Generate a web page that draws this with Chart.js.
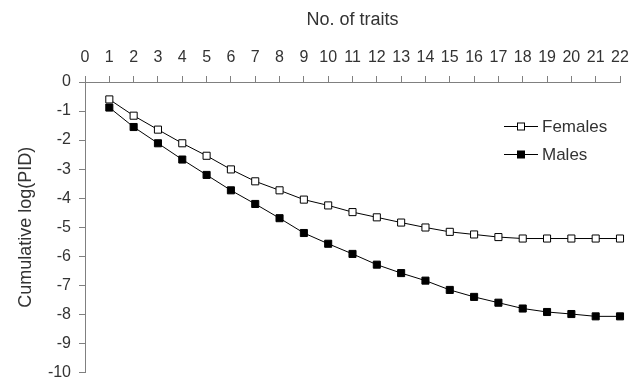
<!DOCTYPE html>
<html lang="en">
<head>
<meta charset="UTF-8">
<title>Cumulative log(PID)</title>
<script src="https://cdn.jsdelivr.net/npm/chart.js@4.4.1/dist/chart.umd.min.js"></script>
<style>
  html, body { margin: 0; padding: 0; background: #fff; }
  #wrap { width: 641px; height: 390px; }
</style>
</head>
<body>
<div id="wrap"><canvas id="chart" width="641" height="390"></canvas></div>
<script>
// number of traits (x) and cumulative log(PID) values
const traits = [1, 2, 3, 4, 5, 6, 7, 8, 9, 10, 11, 12, 13, 14, 15, 16, 17, 18, 19, 20, 21, 22];
const females = [-0.60, -1.16, -1.64, -2.11, -2.54, -3.01, -3.42, -3.73, -4.05, -4.25, -4.48,
                 -4.66, -4.84, -5.01, -5.16, -5.25, -5.34, -5.39, -5.39, -5.39, -5.39, -5.39];
const males = [-0.88, -1.55, -2.11, -2.67, -3.20, -3.73, -4.20, -4.69, -5.20, -5.57, -5.92,
               -6.29, -6.58, -6.84, -7.16, -7.40, -7.60, -7.80, -7.92, -7.99, -8.07, -8.07];
const seriesNames = ['Females', 'Males'];

const FONT = 'Arial, "Liberation Sans", sans-serif';
const TEXT = '#333';
const AXIS = '#808080';

const toPoints = (vals) => vals.map((v, i) => ({ x: traits[i], y: v }));

// legend drawn inside the plot, line + marker like the original
const insideLegend = {
  id: 'insideLegend',
  afterDatasetsDraw(chart) {
    const ctx = chart.ctx;
    const x0 = 504, x1 = 538, rows = [126, 154];
    ctx.save();
    chart.data.datasets.forEach((ds, i) => {
      const y = rows[i];
      ctx.strokeStyle = '#000';
      ctx.lineWidth = 1;
      ctx.beginPath();
      ctx.moveTo(x0, y + 0.5);
      ctx.lineTo(x1, y + 0.5);
      ctx.stroke();
      const s = 7, cx = (x0 + x1) / 2;
      ctx.fillStyle = ds.pointBackgroundColor;
      ctx.fillRect(cx - s / 2, y - s / 2 + 0.5, s, s);
      ctx.strokeRect(cx - s / 2, y - s / 2 + 0.5, s, s);
      ctx.fillStyle = TEXT;
      ctx.font = '17px ' + FONT;
      ctx.textBaseline = 'middle';
      ctx.textAlign = 'left';
      ctx.fillText(ds.label, x1 + 4, y + 1);
    });
    ctx.restore();
  }
};

new Chart(document.getElementById('chart'), {
  type: 'line',
  data: {
    datasets: [
      {
        label: seriesNames[0],
        data: toPoints(females),
        borderColor: '#000',
        borderWidth: 1,
        pointStyle: 'rect',
        pointRadius: 5,
        pointBorderWidth: 1,
        pointBorderColor: '#000',
        pointBackgroundColor: '#fff',
        tension: 0,
        clip: false
      },
      {
        label: seriesNames[1],
        data: toPoints(males),
        borderColor: '#000',
        borderWidth: 1,
        pointStyle: 'rect',
        pointRadius: 5,
        pointBorderWidth: 1,
        pointBorderColor: '#000',
        pointBackgroundColor: '#000',
        tension: 0,
        clip: false
      }
    ]
  },
  options: {
    responsive: false,
    animation: false,
    layout: { padding: { left: 0, top: 0, right: 21, bottom: 9 } },
    plugins: {
      legend: { display: false },
      tooltip: { enabled: false }
    },
    scales: {
      x: {
        type: 'linear',
        position: 'top',
        min: 0,
        max: 22,
        afterFit: (s) => { s.height = 82; },
        ticks: { stepSize: 1, color: TEXT, font: { family: FONT, size: 16 }, padding: 9, maxRotation: 0, autoSkip: false },
        grid: { drawOnChartArea: false, drawTicks: true, tickLength: 6, color: AXIS },
        border: { display: true, color: AXIS, width: 1 },
        title: { display: true, text: 'No. of traits', color: TEXT, font: { family: FONT, size: 18 }, padding: { top: 9, bottom: 0 } }
      },
      y: {
        type: 'linear',
        min: -10,
        max: 0,
        afterFit: (s) => { s.width = 85; },
        ticks: { stepSize: 1, color: TEXT, font: { family: FONT, size: 16 }, padding: 8 },
        grid: { drawOnChartArea: false, drawTicks: true, tickLength: 6, color: AXIS },
        border: { display: true, color: AXIS, width: 1 },
        title: { display: true, text: 'Cumulative log(PID)', color: TEXT, font: { family: FONT, size: 18 }, padding: { top: 15, bottom: 0 } }
      }
    }
  },
  plugins: [insideLegend]
});
</script>
</body>
</html>
